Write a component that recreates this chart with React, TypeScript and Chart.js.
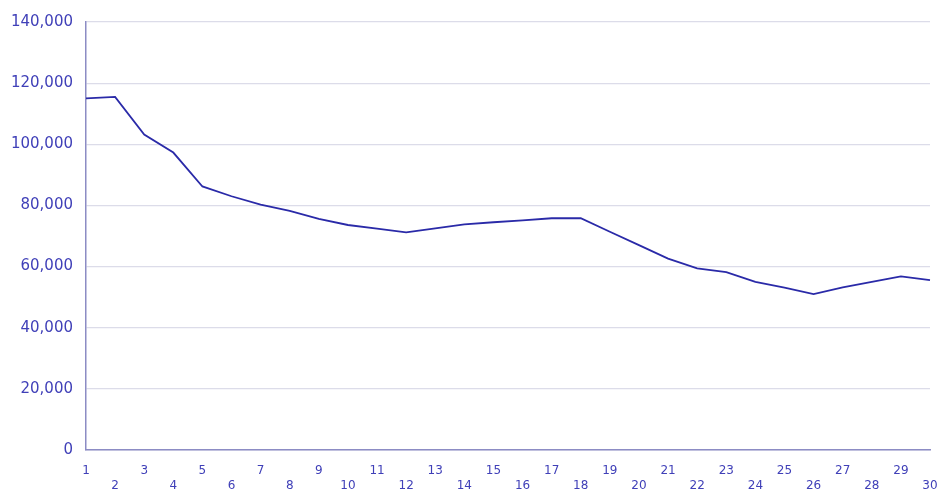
import React, { useEffect, useRef } from "react";
import { Chart, registerables } from "chart.js";

Chart.register(...registerables);

const categories: string[] = Array.from({ length: 30 }, (_, i) => String(i + 1));
const values: number[] = [
  115000, 115500, 103200, 97300, 86200, 83000, 80300, 78200, 75600, 73600,
  72400, 71200, 72500, 73800, 74500, 75100, 75800, 75800, 71400, 67000,
  62600, 59400, 58200, 55000, 53100, 51000, 53200, 55000, 56800, 55600,
];
const yTicks: number[] = [0, 20000, 40000, 60000, 80000, 100000, 120000, 140000];

const TEXT = "#4040b8";
const LINE = "#2a2aa8";

export default function App() {
  const ref = useRef<HTMLCanvasElement | null>(null);
  useEffect(() => {
    document.body.style.margin = "0";
    if (!ref.current) return;
    const chart = new Chart(ref.current, {
      type: "line",
      data: {
        labels: categories.map((c, i) => (i % 2 === 0 ? [c] : ["", c])),
        datasets: [
          {
            data: values,
            borderColor: LINE,
            borderWidth: 1.8,
            pointRadius: 0,
            tension: 0,
            fill: false,
          },
        ],
      },
      options: {
        animation: false,
        responsive: false,
        maintainAspectRatio: false,
        layout: { padding: { top: 21, right: 0, left: 0, bottom: 0 } },
        plugins: { legend: { display: false }, tooltip: { enabled: false } },
        scales: {
          x: {
            grid: { display: false, drawTicks: false },
            border: { color: "#8c8cc4", width: 1.5 },
            offset: false,
            afterFit: (s: any) => {
              s.height = 39;
              s.paddingRight = 11;
            },
            ticks: {
              color: TEXT,
              font: { family: "DejaVu Sans", size: 12, lineHeight: 1.2 },
              padding: 14,
              maxRotation: 0,
              autoSkip: false,
            },
          },
          y: {
            min: 0,
            max: 140000,
            afterBuildTicks: (s: any) => {
              s.ticks = yTicks.map((v) => ({ value: v }));
            },
            afterFit: (s: any) => {
              s.width = 86;
            },
            grid: { color: "#dcdce9", lineWidth: 1.2, drawTicks: false },
            border: { color: "#8c8cc4", width: 1.5 },
            ticks: {
              color: TEXT,
              font: { family: "DejaVu Sans", size: 15 },
              padding: 13,
              callback: (v: any) => Number(v).toLocaleString("en-US"),
            },
          },
        },
      },
    });
    return () => chart.destroy();
  }, []);
  return (
    <div style={{ width: 941, height: 489, background: "#fff" }}>
      <canvas ref={ref} width={941} height={489} style={{ width: 941, height: 489 }} />
    </div>
  );
}
